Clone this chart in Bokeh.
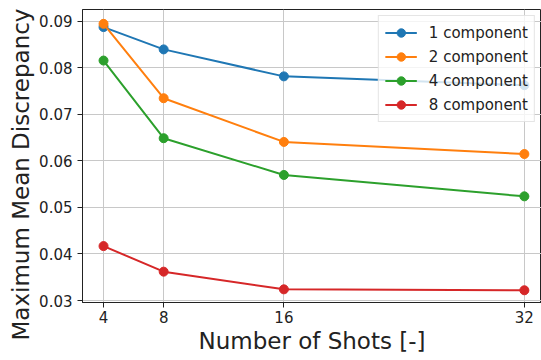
from bokeh.plotting import figure
from bokeh.models import Range1d, FixedTicker, Title
from bokeh.embed import file_html
from bokeh.resources import INLINE

shots = [4, 8, 16, 32]
one_comp = [0.0888, 0.0840, 0.0782, 0.0763]
two_comp = [0.0895, 0.0735, 0.0641, 0.0615]
four_comp = [0.0816, 0.0649, 0.0570, 0.0524]
eight_comp = [0.0417, 0.0362, 0.0324, 0.0322]
series_labels = ["1 component", "2 component", "4 component", "8 component"]
colors = ["#1f77b4", "#ff7f0e", "#2ca02c", "#d62728"]
x_ticks = [4, 8, 16, 32]
y_ticks = [0.03, 0.04, 0.05, 0.06, 0.07, 0.08, 0.09]
x_title = "Number of Shots [-]"
y_title = "Maximum Mean Discrepancy"

FONT = "DejaVu Sans"
TXT = "#222222"

p = figure(width=541, height=360, output_backend="svg", toolbar_location=None,
           x_range=Range1d(2.6, 33.14), y_range=Range1d(0.02957, 0.09258),
           min_border_left=82, min_border_right=0, min_border_top=9, min_border_bottom=58)

p.background_fill_color = "white"
p.border_fill_color = "white"
p.outline_line_color = "#222222"
p.outline_line_width = 1

for vals, lab, c in zip([one_comp, two_comp, four_comp, eight_comp], series_labels, colors):
    p.line(shots, vals, line_color=c, line_width=2, legend_label=lab)
    p.scatter(shots, vals, size=9, fill_color=c, line_color=c, legend_label=lab)

p.xaxis.ticker = FixedTicker(ticks=x_ticks)
p.yaxis.ticker = FixedTicker(ticks=y_ticks)
p.yaxis.formatter.use_scientific = False

for ax in (p.xaxis, p.yaxis):
    ax.axis_line_color = "#222222"
    ax.major_tick_line_color = "#222222"
    ax.major_tick_out = 5
    ax.major_tick_in = 0
    ax.minor_tick_line_color = None
    ax.major_label_text_font = FONT
    ax.major_label_text_font_size = "15px"
    ax.major_label_text_color = TXT
    ax.axis_label_text_font = FONT
    ax.axis_label_text_font_size = "23px"
    ax.axis_label_text_font_style = "normal"
    ax.axis_label_text_color = TXT

p.xaxis.axis_label = x_title
p.xaxis.major_label_standoff = 3
p.yaxis.major_label_standoff = 5
p.xaxis.axis_label_standoff = 2

ytitle = Title(text=y_title, align="left", offset=-38, standoff=5,
               text_font=FONT, text_font_size="23px", text_font_style="normal",
               text_color=TXT)
p.add_layout(ytitle, "left")

p.grid.grid_line_color = "#c8c8c8"
p.grid.grid_line_width = 1

lg = p.legend[0]
lg.location = "top_right"
lg.margin = 6
lg.padding = 6
lg.spacing = 3
lg.glyph_width = 32
lg.glyph_height = 21
lg.label_height = 21
lg.label_standoff = 12
lg.label_text_font = FONT
lg.label_text_font_size = "15px"
lg.label_text_color = TXT
lg.border_line_color = "#cccccc"
lg.background_fill_alpha = 0.8

open("out.html", "w").write(file_html(p, INLINE))
